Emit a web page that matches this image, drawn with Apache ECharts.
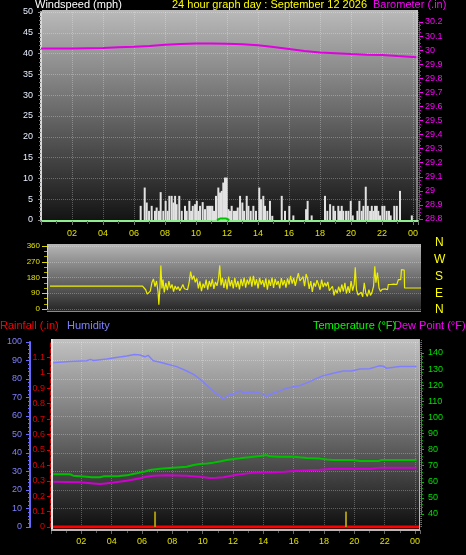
<!DOCTYPE html>
<html><head><meta charset="utf-8">
<script src="https://cdn.jsdelivr.net/npm/echarts@6/dist/echarts.min.js"></script>
<style>html,body{margin:0;padding:0;background:#000;}#c{width:466px;height:555px;}</style>
</head><body><div id="c"></div>
<script>
// ---- tick labels ----
const hourLabels = ['00','02','04','06','08','10','12','14','16','18','20','22','00'];
const compassLabels = ['N','W','S','E','N'];

// ---- wind speed (mph) [hour, value] ----
const windSpeed = [
 [6.43,3.4],[6.69,7.8],[6.82,4.2],[6.97,2.2],[7.14,3.4],[7.35,2.2],[7.46,3.0],[7.61,2.2],[7.72,6.7],[7.89,2.2],
 [8.04,4.6],[8.17,2.2],[8.28,5.8],[8.43,5.8],[8.54,4.2],[8.65,5.8],[8.75,3.8],[8.92,5.8],[9.08,2.2],[9.29,3.4],
 [9.40,2.2],[9.57,4.6],[9.68,2.2],[9.79,3.4],[9.94,3.8],[10.05,4.6],[10.15,2.2],[10.26,3.4],[10.43,4.3],[10.58,2.6],
 [10.73,3.4],[10.84,3.4],[10.95,3.4],[11.05,3.4],[11.16,2.2],[11.29,5.8],[11.44,7.8],[11.55,6.6],[11.66,7.0],[11.76,9.0],
 [11.87,10.2],[11.98,10.2],[12.09,2.6],[12.19,2.2],[12.30,3.4],[12.45,2.2],[12.58,2.2],[12.69,3.0],[12.84,5.8],[12.99,4.2],
 [13.10,2.2],[13.27,5.8],[13.38,3.4],[13.53,2.2],[13.70,3.4],[13.87,2.2],[14.08,7.8],[14.19,5.0],[14.34,5.8],[14.45,3.4],
 [14.60,2.2],[14.77,4.6],[14.92,1.0],[15.53,5.8],[15.74,2.2],[16.02,3.4],[16.28,1.1],[17.10,2.6],[17.20,4.6],[17.46,1.1],
 [18.32,5.8],[18.47,2.2],[18.65,3.8],[18.86,3.4],[18.97,2.2],[19.18,3.4],[19.29,2.2],[19.40,3.4],[19.50,2.2],[19.68,2.2],
 [19.83,2.2],[19.98,4.6],[20.11,1.1],[20.41,2.2],[20.54,4.6],[20.69,2.2],[20.80,3.4],[20.95,8.0],[21.08,3.4],[21.23,2.2],
 [21.34,3.4],[21.44,2.2],[21.55,3.4],[21.66,3.4],[21.76,2.2],[21.87,1.1],[22.02,3.4],[22.15,3.4],[22.30,2.2],[22.45,2.2],
 [22.56,1.1],[22.79,3.4],[22.95,3.4],[23.16,7.0],[23.92,1.1]
];
const windAvg = [[11.35,0],[11.55,0.35],[11.95,0.35],[12.15,0]];

// ---- barometer (inHg) ----
const baroHours = [0,1,2,3,4,5,6,7,8,9,10,11,12,13,14,15,16,17,18,19,20,21,22,23,24,24.3];
const baroValues = [30.012,30.012,30.012,30.014,30.016,30.02,30.024,30.03,30.038,30.044,30.048,30.048,30.046,30.042,30.034,30.022,30.008,29.994,29.984,29.978,29.972,29.968,29.966,29.958,29.952,29.95];

// ---- wind direction (deg) [hour, value] ----
const windDir = [
 [0.13,131],[3.5,131],[3.57,134],[3.64,131],[6.10,131],[6.20,125],[6.30,110],[6.40,85],[6.50,78],[6.60,102],
 [6.70,150],[6.80,172],[6.90,128],[7.00,160],[7.10,98],[7.15,24],[7.22,120],[7.28,249],[7.35,118],[7.42,168],
 [7.50,95],[7.60,150],[7.70,108],[7.80,160],[7.90,118],[8.00,140],[8.10,100],[8.20,132],[8.30,112],[8.40,128],
 [8.50,104],[8.60,122],[8.70,140],[8.80,116],[8.90,126],[9.00,110],[9.10,150],[9.20,214],[9.30,168],[9.40,190],
 [9.50,152],[9.60,175],[9.70,118],[9.80,158],[9.90,102],[10.00,145],[10.10,120],[10.20,168],[10.30,110],[10.40,160],
 [10.50,128],[10.60,172],[10.70,115],[10.80,155],[10.90,132],[11.00,175],[11.08,249],[11.16,135],[11.25,178],[11.35,120],
 [11.45,170],[11.55,112],[11.65,185],[11.75,130],[11.85,165],[11.95,118],[12.05,178],[12.15,125],[12.25,160],[12.35,112],
 [12.45,172],[12.55,130],[12.65,180],[12.75,122],[12.85,168],[12.95,140],[13.05,185],[13.15,128],[13.25,190],[13.35,135],
 [13.45,170],[13.55,118],[13.65,178],[13.75,140],[13.85,165],[13.95,125],[14.05,175],[14.15,110],[14.25,168],[14.35,132],
 [14.45,180],[14.55,120],[14.65,172],[14.75,138],[14.85,160],[14.95,118],[15.05,176],[15.15,135],[15.25,165],[15.35,122],
 [15.45,175],[15.55,140],[15.65,190],[15.75,145],[15.85,178],[15.95,132],[16.05,170],[16.15,205],[16.25,160],[16.35,150],
 [16.45,185],[16.55,130],[16.65,200],[16.75,172],[16.85,115],[16.95,160],[17.05,98],[17.15,150],[17.25,128],[17.35,165],
 [17.45,140],[17.55,110],[17.65,168],[17.75,125],[17.85,150],[17.95,130],[18.05,155],[18.15,105],[18.25,95],[18.35,130],
 [18.45,78],[18.55,112],[18.65,90],[18.75,128],[18.85,95],[18.95,140],[19.05,100],[19.15,150],[19.25,88],[19.35,130],
 [19.45,92],[19.55,160],[19.65,105],[19.75,140],[19.82,238],[19.90,110],[20.00,80],[20.10,72],[20.20,96],[20.30,70],
 [20.40,150],[20.50,90],[20.60,72],[20.70,110],[20.80,78],[20.90,95],[21.00,130],[21.08,244],[21.15,150],[21.25,208],
 [21.35,120],[21.45,100],[21.55,112],[21.65,108],[21.75,115],[21.90,110],[21.95,140],[22.10,140],[22.30,142],[22.50,140],
 [22.60,168],[22.75,168],[22.80,225],[22.90,220],[22.98,222],[23.00,120],[24.06,120]
];

// ---- humidity (%) ----
const humidity = [
 [0.15,88.8],[1.2,89.5],[2.35,89.9],[2.6,90.6],[2.8,90],[3.67,90.8],[4.3,91.6],[5.0,92.4],[5.5,93.2],[5.87,93],
 [6.2,92],[6.4,92.8],[6.74,89.9],[7.2,89],[7.63,88.1],[8.29,86.7],[8.95,84.3],[9.4,82.5],[9.82,80],[10.15,77.5],
 [10.48,75],[10.8,72.8],[11.14,70.8],[11.3,69.5],[11.47,69.9],[11.7,71.2],[12.02,71.9],[12.3,73],[12.46,73.5],[12.8,72.3],
 [13.0,72.8],[13.34,73.1],[13.7,72.5],[13.99,71.9],[14.2,70.3],[14.4,71.5],[14.65,72.3],[15.1,73.6],[15.54,75],[16.0,75.8],
 [16.41,76.4],[17.07,78.6],[17.5,80.3],[17.95,81.8],[18.61,83.1],[19.27,84.3],[19.8,84.3],[20.37,85.4],[21.0,85.5],[21.47,86.7],
 [21.7,87.2],[21.9,86.9],[22.13,85.8],[22.6,86.3],[23.01,86.7],[24.1,86.7]
];
// ---- temperature (°F) ----
const temperature = [
 [0.15,64.7],[1.25,64.7],[1.47,63.8],[2.35,63.2],[2.7,62.8],[3.23,62.8],[3.5,63.4],[4.1,63.4],[4.5,63.6],[4.99,64],
 [5.4,64.8],[5.87,65.7],[6.2,66.4],[6.52,67.3],[7.19,68.1],[8.06,68.8],[8.95,69.4],[9.4,70.4],[9.82,71],[10.3,71.4],
 [10.7,71.9],[11.2,72.8],[11.58,73.5],[12.05,74.2],[12.46,74.6],[13.34,75.6],[13.8,76],[14.22,76.6],[14.4,75.8],[15.0,75.6],
 [15.97,75.6],[16.4,75.2],[16.86,74.8],[17.73,74.4],[18.2,73.8],[18.61,73.5],[19.9,73.5],[20.37,72.9],[21.6,72.9],[21.8,73.5],[24.1,73.5]
];
// ---- dew point (°F) ----
const dewPoint = [
 [0.15,60.1],[1.91,59.7],[2.8,59.0],[3.23,58.6],[3.6,59.0],[4.11,59.5],[4.99,60.7],[5.87,62.2],[6.3,63.2],[6.74,63.8],
 [7.63,64],[8.95,63.8],[9.82,63.2],[10.48,62.4],[10.9,62.5],[11.36,62.8],[11.8,63.6],[12.24,64.4],[13.34,65.7],[14.65,65.9],
 [15.4,66.3],[15.97,66.7],[16.9,67.1],[17.73,67.5],[18.61,68.1],[21.1,68.1],[21.69,68.8],[24.1,68.8]
];
// ---- rainfall (.in) ----
const rainfall = [[0,0],[24.33,0]];
const rainRate = [[6.86,0.1],[19.45,0.1]];

const FONT = '"Liberation Sans", Arial, sans-serif';
const chart = echarts.init(document.getElementById('c'), null, {renderer:'canvas'});

function hourFmt(v){
  const k = v/2;
  if (v <= 0.01 || v > 24.01 || Math.abs(k - Math.round(k)) > 1e-6) return '';
  return hourLabels[Math.round(k)];
}
const dotted = {show:true, lineStyle:{color:'rgba(255,255,255,0.28)', type:'dotted', width:1}};
const grad = (stops) => new echarts.graphic.LinearGradient(0,0,0,1, stops.map((c)=>({offset:c[0], color:c[1]})));

const option = {
  backgroundColor:'#000',
  animation:false,
  textStyle:{fontFamily:FONT},
  grid:[
    {left:41, top:12, width:377, height:208},
    {left:41, top:22, width:377, height:197},
    {left:48, top:246, width:373, height:63},
    {left:51, top:342, width:369, height:185},
    {left:51, top:353, width:369, height:161}
  ],
  xAxis:[
    {gridIndex:0, type:'value', min:0, max:24.32, interval:2, offset:1,
     axisLine:{show:true, onZero:false, lineStyle:{color:'#90ee90', width:2}},
     axisTick:{show:true, length:4, lineStyle:{color:'#777'}},
     minorTick:{show:true, splitNumber:2, length:3, lineStyle:{color:'#666'}},
     axisLabel:{formatter:hourFmt, color:'#e0e000', fontSize:9, margin:8, fontFamily:FONT},
     splitLine:dotted},
    {gridIndex:1, type:'value', min:0, max:24.32, show:false},
    {gridIndex:2, type:'value', min:0, max:24.06, show:false},
    {gridIndex:3, type:'value', min:0, max:24.33, interval:2, offset:3,
     axisLine:{show:false, onZero:false},
     axisTick:{show:true, length:4, lineStyle:{color:'#666'}},
     minorTick:{show:true, splitNumber:2, length:3, lineStyle:{color:'#555'}},
     axisLabel:{formatter:hourFmt, color:'#e0e000', fontSize:9, margin:7, fontFamily:FONT},
     splitLine:dotted},
    {gridIndex:4, type:'value', min:0, max:24.33, show:false}
  ],
  yAxis:[
    {gridIndex:0, type:'value', min:0, max:50, interval:5, position:'left',
     axisLine:{show:true, onZero:false, lineStyle:{color:'#d8d8d8', width:2}},
     axisTick:{show:true, length:3, lineStyle:{color:'#888'}},
     minorTick:{show:true, splitNumber:5, length:2, lineStyle:{color:'#777'}},
     axisLabel:{color:'#e6eeff', fontSize:9, margin:8, fontFamily:FONT},
     splitLine:dotted},
    {gridIndex:1, type:'value', min:28.8, max:30.2, interval:0.1, position:'right', offset:1,
     axisLine:{show:true, onZero:false, lineStyle:{color:'#ff00ff', width:1, type:'dotted'}},
     axisTick:{show:true, length:4, lineStyle:{color:'#ff00ff'}},
     minorTick:{show:true, splitNumber:4, length:2, lineStyle:{color:'#cc00cc'}},
     axisLabel:{color:'#ff00ff', fontSize:9, margin:6, fontFamily:FONT,
       formatter:v => String(Math.round(v*10)/10)},
     splitLine:{show:false}},
    {gridIndex:2, type:'value', min:0, max:360, interval:90, position:'left', offset:1,
     axisLine:{show:true, onZero:false, lineStyle:{color:'#d0d0d0', width:1}},
     axisTick:{show:true, length:5, lineStyle:{color:'#d8d800'}},
     minorTick:{show:true, splitNumber:3, length:3, lineStyle:{color:'#b0b000'}},
     axisLabel:{color:'#e0e000', fontSize:8, margin:7, fontFamily:FONT},
     splitLine:dotted},
    {gridIndex:3, type:'value', min:0, max:100, interval:10, position:'left', offset:21,
     axisLine:{show:true, onZero:false, lineStyle:{color:'#6a6aff', width:2}},
     axisTick:{show:true, length:4, lineStyle:{color:'#6a6aff'}},
     minorTick:{show:true, splitNumber:5, length:2, lineStyle:{color:'#6a6aff'}},
     axisLabel:{color:'#8080ff', fontSize:9, margin:8, fontFamily:FONT},
     splitLine:dotted},
    {gridIndex:3, type:'value', min:0, max:1.2, interval:0.1, position:'left', offset:1,
     axisLine:{show:true, onZero:false, lineStyle:{color:'#e00000', width:1, type:'dashed'}},
     axisTick:{show:true, length:3, lineStyle:{color:'#e00000'}},
     minorTick:{show:false},
     axisLabel:{color:'#e00000', fontSize:9, margin:5, showMaxLabel:false, fontFamily:FONT,
       formatter:v => String(Math.round(v*10)/10)},
     splitLine:{show:false}},
    {gridIndex:4, type:'value', min:40, max:140, interval:10, position:'right', offset:1,
     axisLine:{show:true, onZero:false, lineStyle:{color:'#00c000', width:1, type:'dotted'}},
     axisTick:{show:true, length:3, lineStyle:{color:'#00c000'}},
     minorTick:{show:true, splitNumber:5, length:2, lineStyle:{color:'#00a000'}},
     axisLabel:{color:'#00e000', fontSize:9, margin:7, fontFamily:FONT},
     splitLine:{show:false}}
  ],
  graphic:[
    {type:'rect', z:-10, shape:{x:42, y:10, width:376, height:212}, style:{fill:grad([[0,'#bababa'],[0.5,'#666666'],[1,'#121212']])}},
    {type:'rect', z:-10, shape:{x:47, y:244, width:374, height:68}, style:{fill:grad([[0,'#b6b6b6'],[1,'#242424']])}},
    {type:'rect', z:-10, shape:{x:51, y:339, width:369, height:192}, style:{fill:grad([[0,'#c2c2c2'],[0.5,'#6a6a6a'],[1,'#0c0c0c']])}},
    {type:'line', z:5, shape:{x1:417, y1:10, x2:417, y2:221}, style:{stroke:'#cfcfcf', lineWidth:1}},
    {type:'line', z:5, shape:{x1:47, y1:311.5, x2:421, y2:311.5}, style:{stroke:'#8a8a8a', lineWidth:1}},
    {type:'line', z:5, shape:{x1:52, y1:339, x2:52, y2:531}, style:{stroke:'#e8e8e8', lineWidth:2}},
    {type:'line', z:5, shape:{x1:51, y1:530, x2:420, y2:530}, style:{stroke:'#b8b8b8', lineWidth:2}},
    {type:'line', z:5, shape:{x1:419.5, y1:339, x2:419.5, y2:531}, style:{stroke:'#b8b8b8', lineWidth:1}},
    {type:'line', z:5, shape:{x1:421.5, y1:340, x2:421.5, y2:528}, style:{stroke:'#00c000', lineWidth:1, lineDash:[1,1]}},
    {type:'text', left:35, top:-1, style:{text:'Windspeed (mph)', fill:'#ffffff', fontSize:11, fontFamily:FONT}},
    {type:'text', left:172, top:-1, style:{text:'24 hour graph day : September 12 2026', fill:'#ffff00', fontSize:11, fontFamily:FONT}},
    {type:'text', left:373, top:-1, style:{text:'Barometer (.in)', fill:'#ff00ff', fontSize:11, fontFamily:FONT}},
    {type:'text', left:0, top:320, style:{text:'Rainfall (.in)', fill:'#ff0000', fontSize:11, fontFamily:FONT}},
    {type:'text', left:67, top:320, style:{text:'Humidity', fill:'#8080ff', fontSize:11, fontFamily:FONT}},
    {type:'text', left:313, top:320, style:{text:'Temperature (°F)', fill:'#00ff00', fontSize:11, fontFamily:FONT}},
    {type:'text', left:394, top:320, style:{text:'Dew Point (°F)', fill:'#ff00ff', fontSize:11, fontFamily:FONT}},
    {type:'text', left:435, top:237, style:{text:compassLabels[0], fill:'#ffff00', fontSize:12, fontFamily:FONT}},
    {type:'text', left:434, top:254, style:{text:compassLabels[1], fill:'#ffff00', fontSize:12, fontFamily:FONT}},
    {type:'text', left:435, top:271, style:{text:compassLabels[2], fill:'#ffff00', fontSize:12, fontFamily:FONT}},
    {type:'text', left:435, top:288, style:{text:compassLabels[3], fill:'#ffff00', fontSize:12, fontFamily:FONT}},
    {type:'text', left:435, top:304, style:{text:compassLabels[4], fill:'#ffff00', fontSize:12, fontFamily:FONT}}
  ],
  series:[
    {name:'Windspeed', type:'bar', xAxisIndex:0, yAxisIndex:0, data:windSpeed, barWidth:2,
     itemStyle:{color:'#e2e2e2'}, z:3},
    {name:'Wind avg', type:'line', xAxisIndex:0, yAxisIndex:0, data:windAvg, symbol:'none',
     lineStyle:{color:'#00c000', width:2}, z:4},
    {name:'Barometer', type:'line', xAxisIndex:1, yAxisIndex:1,
     data:baroHours.map((h,i)=>[h, baroValues[i]]), symbol:'none',
     lineStyle:{color:'#e000e0', width:2}, z:4},
    {name:'Wind direction', type:'line', xAxisIndex:2, yAxisIndex:2, data:windDir, symbol:'none',
     lineStyle:{color:'#eeee00', width:1.2}, z:4},
    {name:'Humidity', type:'line', xAxisIndex:3, yAxisIndex:3, data:humidity, symbol:'none',
     lineStyle:{color:'#8080ff', width:1.5}, z:4},
    {name:'Rainfall', type:'line', xAxisIndex:3, yAxisIndex:4, data:rainfall, symbol:'none',
     lineStyle:{color:'#ff0000', width:3}, z:4},
    {name:'Rain rate', type:'bar', xAxisIndex:3, yAxisIndex:4, data:rainRate, barWidth:2,
     itemStyle:{color:'#a49410'}, z:6},
    {name:'Temperature', type:'line', xAxisIndex:4, yAxisIndex:5, data:temperature, symbol:'none',
     lineStyle:{color:'#00c000', width:2}, z:4},
    {name:'Dew Point', type:'line', xAxisIndex:4, yAxisIndex:5, data:dewPoint, symbol:'none',
     lineStyle:{color:'#d000d0', width:2}, z:4}
  ]
};
chart.setOption(option);
</script>
</body></html>
